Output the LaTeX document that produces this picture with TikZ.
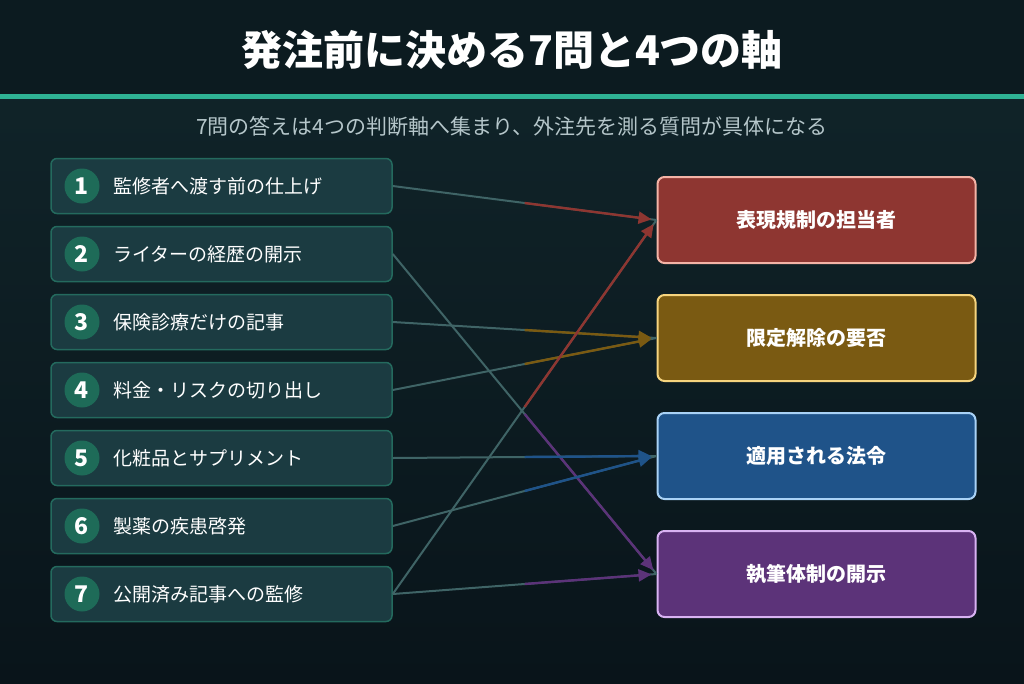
\documentclass[tikz,border=0pt]{standalone}
\usepackage{fontspec}
\setmainfont{Noto Sans CJK JP}
\usetikzlibrary{arrows.meta,calc}
\definecolor{bgtop}{HTML}{11262B}
\definecolor{bgbot}{HTML}{09141A}
\definecolor{band}{HTML}{0C1B20}
\definecolor{teal}{HTML}{2FB294}
\definecolor{lfill}{HTML}{1B3B41}
\definecolor{lborder}{HTML}{246A5E}
\definecolor{circ}{HTML}{1E6B58}
\definecolor{gline}{HTML}{3F6466}
\definecolor{subc}{HTML}{B5C6CA}
\definecolor{rA}{HTML}{8E3631}\definecolor{rAb}{HTML}{F4B3A6}
\definecolor{rB}{HTML}{7A5A12}\definecolor{rBb}{HTML}{F6D47E}
\definecolor{rC}{HTML}{1F5389}\definecolor{rCb}{HTML}{A9D2F6}
\definecolor{rD}{HTML}{5C3379}\definecolor{rDb}{HTML}{D8B2F2}
\begin{document}
\begin{tikzpicture}[x=1pt,y=-1pt,
  lbox/.style={draw=lborder,line width=1.5pt,fill=lfill,rounded corners=6pt,minimum width=341pt,minimum height=55pt,inner sep=0pt},
  num/.style={circle,fill=circ,minimum size=35pt,inner sep=0pt,text=white,font=\fontsize{23}{23}\selectfont\bfseries},
  ltxt/.style={anchor=west,text=white,font=\fontsize{19}{19}\selectfont},
  rbox/.style={line width=2pt,rounded corners=7pt,minimum width=318pt,minimum height=86pt,inner sep=0pt,text=white,font=\fontsize{20}{20}\selectfont\bfseries},
  gl/.style={gline,line width=2pt},
  cl/.style={line width=2.4pt,-{Triangle[length=13pt,width=12pt]},shorten >=5pt}]
\shade[top color=bgtop,bottom color=bgbot] (0,0) rectangle (1024,683);
\fill[band] (0,0) rectangle (1024,94);
\fill[teal] (0,94) rectangle (1024,99);
\node[text=white,font=\fontsize{41}{41}\selectfont\bfseries] (title) at (512,50) {発注前に決める7問と4つの軸};
\node[text=subc,font=\fontsize{21}{21}\selectfont] (sub) at (512,126) {7問の答えは4つの判断軸へ集まり、外注先を測る質問が具体になる};
\foreach \i/\t in {1/監修者へ渡す前の仕上げ,2/ライターの経歴の開示,3/保険診療だけの記事,4/料金・リスクの切り出し,5/化粧品とサプリメント,6/製薬の疾患啓発,7/公開済み記事への監修}{
  \node[lbox] (L\i) at (221.5,{186+68*(\i-1)}) {};
  \node[num] (N\i) at (82,{186+68*(\i-1)}) {\i};
  \node[ltxt] (T\i) at (110,{186+68*(\i-1)}) {\t};
}
\node[rbox,draw=rAb,fill=rA] (A) at (816.5,220) {表現規制の担当者};
\node[rbox,draw=rBb,fill=rB] (B) at (816.5,338) {限定解除の要否};
\node[rbox,draw=rCb,fill=rC] (C) at (816.5,456) {適用される法令};
\node[rbox,draw=rDb,fill=rD] (D) at (816.5,574) {執筆体制の開示};
\foreach \s/\d/\c in {1/A/rA,2/D/rD,3/B/rB,4/B/rB,5/C/rC,6/C/rC,7/A/rA,7/D/rD}{
  \draw[gl] (L\s.east) -- (\d.west);
  \draw[cl,\c] ($(L\s.east)!0.5!(\d.west)$) -- (\d.west);
}
\end{tikzpicture}
\end{document}
